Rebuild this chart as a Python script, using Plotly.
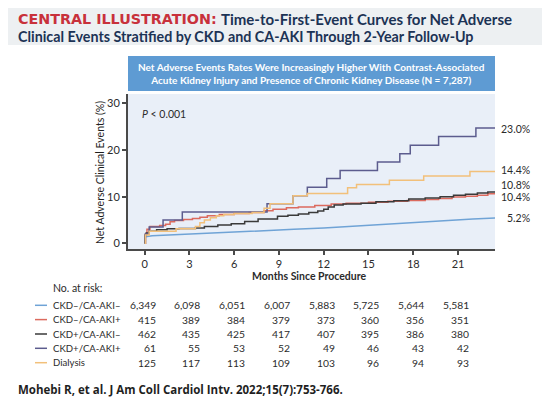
import plotly.graph_objects as go

# ---------------- data ----------------
series_names = ["CKD\u2013/CA-AKI\u2013", "CKD\u2013/CA-AKI+", "CKD+/CA-AKI\u2013", "CKD+/CA-AKI+", "Dialysis"]
series_colors = ["#6fa3d6", "#dc6a5e", "#3a3a3a", "#5c5c8e", "#f2c07a"]

blue_t = [0, 0.05, 0.5, 2, 4, 6, 8, 10, 12, 14, 16, 18, 20, 22, 23.5]
blue_v = [0, 1.4, 1.6, 1.8, 2.1, 2.4, 2.7, 3.0, 3.3, 3.7, 4.1, 4.5, 4.9, 5.2, 5.4]

red_t = [0, 0.05, 0.15, 0.35, 1.0, 1.4, 1.7, 2.0, 2.6, 3.2, 3.7, 4.2, 5.0, 6.0, 7.0, 8.0, 8.6,
         9.5, 10.3, 11.4, 12.5, 13.5, 15.0, 16.3, 17.6, 18.8, 19.7, 20.6, 21.5, 22.3, 23.0, 23.5]
red_v = [0, 2.0, 3.0, 3.6, 3.8, 4.1, 4.6, 4.9, 5.1, 5.3, 5.6, 5.9, 6.2, 6.4, 6.6, 7.0, 7.3,
         7.6, 7.8, 8.1, 8.4, 8.6, 8.8, 9.0, 9.2, 9.4, 9.6, 9.9, 10.1, 10.3, 10.6, 10.6]

black_t = [0, 0.03, 0.1, 0.3, 0.8, 1.5, 2.3, 3.4, 4.0, 4.9, 5.8, 6.7, 7.6, 8.9, 9.6, 10.3, 11.0,
           11.6, 12.0, 12.3, 12.7, 13.3, 14.5, 15.5, 16.7, 17.7, 18.8, 19.8, 20.7, 21.5, 22.3, 23.0, 23.5]
black_v = [0, 1.8, 2.2, 2.6, 2.9, 3.1, 3.2, 3.3, 3.6, 3.9, 4.2, 4.7, 5.2, 5.8, 6.0, 6.3, 6.6,
           6.9, 7.3, 7.8, 8.2, 8.4, 8.6, 8.9, 9.1, 9.5, 9.7, 10.0, 10.3, 10.5, 10.8, 11.0, 11.0]

purple_t = [0, 0.05, 0.3, 1.23, 2.52, 8.2, 9.94, 10.9, 12.2, 13.1, 15.6, 17.1, 17.8, 19.7, 22.2, 23.5]
purple_v = [0, 2.0, 3.5, 5.0, 6.7, 8.5, 10.2, 12.0, 13.9, 15.6, 17.4, 19.2, 21.0, 22.9, 24.7, 24.7]

orange_t = [0, 0.05, 0.3, 2.1, 3.4, 3.7, 4.0, 4.4, 4.8, 5.3, 6.0, 7.2, 8.0, 8.4, 9.94, 10.9,
            13.6, 14.2, 16.4, 18.7, 21.8, 23.5]
orange_v = [0, 1.8, 2.6, 3.1, 3.6, 4.4, 5.0, 5.5, 5.9, 6.2, 6.4, 6.6, 7.5, 8.5, 10.2, 10.7,
            11.9, 12.6, 13.5, 14.4, 15.4, 15.4]

end_labels = ["5.2%", "10.4%", "10.8%", "23.0%", "14.4%"]
end_label_y = [5.4, 9.95, 12.4, 24.6, 15.8]

x_ticks = [0, 3, 6, 9, 12, 15, 18, 21]
y_ticks = [0, 10, 20, 30]

risk_blue = ["6,349", "6,098", "6,051", "6,007", "5,883", "5,725", "5,644", "5,581"]
risk_red = ["415", "389", "384", "379", "373", "360", "356", "351"]
risk_black = ["462", "435", "425", "417", "407", "395", "386", "380"]
risk_purple = ["61", "55", "53", "52", "49", "46", "43", "42"]
risk_orange = ["125", "117", "113", "109", "103", "96", "94", "93"]

# ---------------- layout helpers ----------------
W, H = 550, 399
L, R, T, B = 120, 487, 86, 241   # plot area in pixels
def px(x):
    return (x - L) / (R - L)
def py(y):
    return (B - y) / (B - T)

BODY = "Lato, 'Noto Sans', sans-serif"
TXT = "#2b2b2b"
NAVY = "#1c3355"

fig = go.Figure()
all_t = [blue_t, red_t, black_t, purple_t, orange_t]
all_v = [blue_v, red_v, black_v, purple_v, orange_v]
for i, (t, v) in enumerate(zip(all_t, all_v)):
    fig.add_trace(go.Scatter(
        x=t, y=v, mode="lines",
        line=dict(color=series_colors[i], width=1.5, shape="linear" if i == 0 else "hv"),
        name=series_names[i], showlegend=False, hoverinfo="skip"))

annotations = []
# title (header)
annotations.append(dict(x=px(8), y=py(10.5), xref="paper", yref="paper", xanchor="left", yanchor="middle",
                        text="<b>CENTRAL ILLUSTRATION:</b>", showarrow=False,
                        font=dict(family="'DejaVu Sans', sans-serif", size=14.3, color="#c8313b")))
annotations.append(dict(x=px(211), y=py(10.5), xref="paper", yref="paper", xanchor="left", yanchor="middle",
                        text="<b>Time-to-First-Event Curves for Net Adverse</b>", showarrow=False,
                        font=dict(family="Lato, sans-serif", size=15, color=NAVY)))
annotations.append(dict(x=px(8), y=py(28.3), xref="paper", yref="paper", xanchor="left", yanchor="middle",
                        text="<b>Clinical Events Stratified by CKD and CA-AKI Through 2-Year Follow-Up</b>",
                        showarrow=False, font=dict(family="Lato, sans-serif", size=14.3, color=NAVY)))
# banner text
annotations.append(dict(x=px(303.5), y=py(65.5), xref="paper", yref="paper", xanchor="center", yanchor="middle",
                        text="<b>Net Adverse Events Rates Were Increasingly Higher With Contrast-Associated<br>"
                             "Acute Kidney Injury and Presence of Chronic Kidney Disease (N = 7,287)</b>",
                        showarrow=False, font=dict(family=BODY, size=10, color="white")))
# p value
annotations.append(dict(x=px(132), y=py(106), xref="paper", yref="paper", xanchor="left", yanchor="middle",
                        text="<i>P</i> < 0.001", showarrow=False, font=dict(family=BODY, size=10.5, color=TXT)))
# y title
annotations.append(dict(x=px(92), y=py(165), xref="paper", yref="paper", xanchor="center", yanchor="middle",
                        text="Net Adverse Clinical Events (%)", textangle=-90, showarrow=False,
                        font=dict(family=BODY, size=10.5, color="#1e1e1e")))
# x title
annotations.append(dict(x=px(301), y=py(268), xref="paper", yref="paper", xanchor="center", yanchor="middle",
                        text="<b>Months Since Procedure</b>", showarrow=False,
                        font=dict(family=BODY, size=10.5, color=TXT)))
# end labels
for lab, yv in zip(end_labels, end_label_y):
    annotations.append(dict(x=px(524), y=yv, xref="paper", yref="y", xanchor="right", yanchor="middle",
                            text=lab, showarrow=False, font=dict(family=BODY, size=10.5, color=TXT)))
# risk table
annotations.append(dict(x=px(43), y=py(280), xref="paper", yref="paper", xanchor="left", yanchor="middle",
                        text="No. at risk:", showarrow=False, font=dict(family=BODY, size=10.5, color=TXT)))
rows = [risk_blue, risk_red, risk_black, risk_purple, risk_orange]
row_y = [297.3, 311.6, 326.0, 340.3, 354.7]
shapes = []
for i, (vals, ry) in enumerate(zip(rows, row_y)):
    annotations.append(dict(x=px(43), y=py(ry), xref="paper", yref="paper", xanchor="left", yanchor="middle",
                            text=series_names[i], showarrow=False, font=dict(family=BODY, size=9.6, color=TXT)))
    shapes.append(dict(type="line", xref="paper", yref="paper", x0=px(27), x1=px(39), y0=py(ry), y1=py(ry),
                       line=dict(color=series_colors[i], width=1.5)))
    for xt, val in zip(x_ticks, vals):
        annotations.append(dict(x=xt, y=py(ry), xref="x", yref="paper", xanchor="right", yanchor="middle",
                                xshift=13, text=val, showarrow=False,
                                font=dict(family=BODY, size=10.3, color=TXT)))
# citation
annotations.append(dict(x=px(8), y=py(381.5), xref="paper", yref="paper", xanchor="left", yanchor="middle",
                        text="<b>Mohebi R, et al. J Am Coll Cardiol Intv. 2022;15(7):753-766.</b>", showarrow=False,
                        font=dict(family="'Open Sans', sans-serif", size=11.5, color="#1f1f1f")))

# backgrounds
shapes = [
    dict(type="rect", xref="paper", yref="paper", x0=px(0), x1=px(550), y0=py(0), y1=py(37),
         fillcolor="#edf0f2", line=dict(width=0), layer="below"),
    dict(type="rect", xref="paper", yref="paper", x0=px(120), x1=px(487), y0=py(48), y1=py(83),
         fillcolor="#5e9bd3", line=dict(width=0), layer="below"),
    dict(type="rect", xref="paper", yref="paper", x0=px(0), x1=px(550), y0=py(396), y1=py(399),
         fillcolor="#fbe6e6", line=dict(width=0), layer="below"),
] + shapes

fig.update_layout(
    width=W, height=H,
    margin=dict(l=L, r=W - R, t=T, b=H - B, pad=0),
    paper_bgcolor="white", plot_bgcolor="#e9eff8",
    font=dict(family=BODY, size=11, color=TXT),
    annotations=annotations, shapes=shapes, showlegend=False,
    xaxis=dict(range=[-1.12, 23.48], tickvals=x_ticks, ticktext=[str(v) for v in x_ticks],
               showgrid=False, zeroline=False, showline=True, linecolor="#4a4a4a", linewidth=2,
               ticks="outside", ticklen=4, tickwidth=1.5, tickcolor="#4a4a4a",
               tickfont=dict(family=BODY, size=11, color=TXT), fixedrange=True),
    yaxis=dict(range=[-1.22, 32.0], tickvals=y_ticks, showgrid=False, zeroline=False,
               showline=True, linecolor="#4a4a4a", linewidth=2,
               ticks="outside", ticklen=4, tickwidth=1.5, tickcolor="#4a4a4a",
               tickfont=dict(family=BODY, size=11, color=TXT), fixedrange=True),
)

fig.write_html("out.html")
